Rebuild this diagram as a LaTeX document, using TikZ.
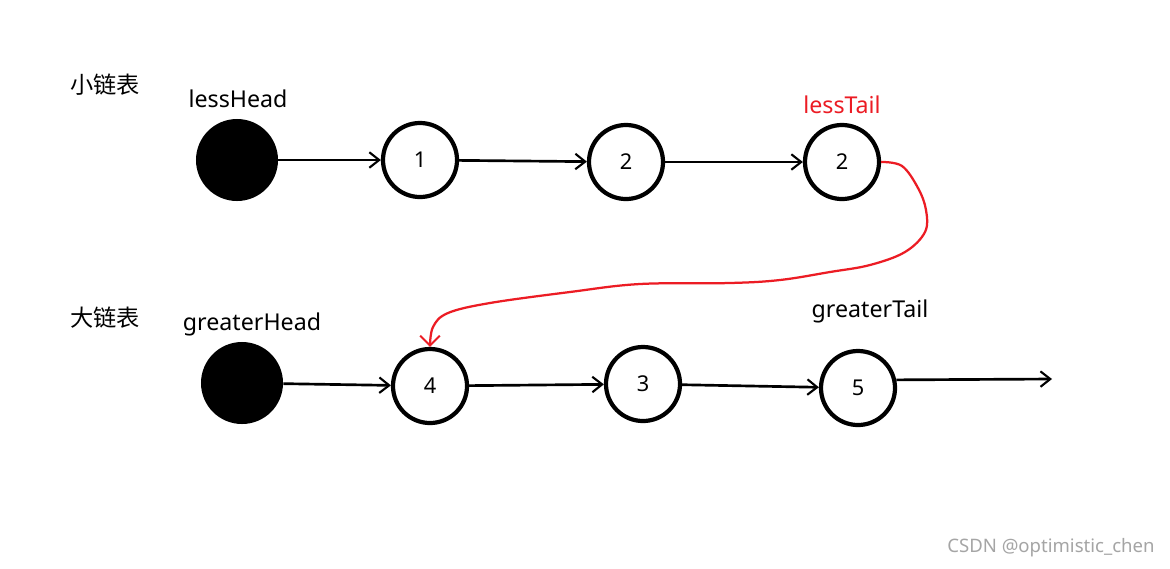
\documentclass[tikz,border=0pt]{standalone}
\usepackage{fontspec}
\setmainfont{Noto Sans}
\newfontfamily\cjk{Noto Sans CJK SC}
\usepackage{tikz}
\usetikzlibrary{arrows.meta}
\tikzset{>=latex}
\definecolor{handred}{RGB}{236,28,36}
\definecolor{markgray}{RGB}{165,165,165}
\tikzstyle{listnode}=[circle,draw=black,line width=3pt,minimum size=1.85cm,inner sep=0pt,font=\fontsize{15.5}{18}\selectfont]
\tikzstyle{headnode}=[circle,fill=black,minimum size=2.05cm,inner sep=0pt]
\tikzstyle{tag}=[inner sep=0pt,font=\fontsize{16.5}{19}\selectfont]
\tikzstyle{link}=[-{Straight Barb[length=7pt,width=11pt,line width=1.5pt]},line width=1.9pt]
\tikzstyle{redlink}=[-{Straight Barb[length=7pt,width=14pt,line width=1.4pt]},handred,line width=1.6pt]
\begin{document}
\begin{tikzpicture}[x=0.025cm,y=-0.025cm]
  \useasboundingbox[fill=white] (0,0) rectangle (1170,568);

  % small list
  \node[tag] (lesslist) at (105,85) {\cjk 小链表};
  \node[headnode] (lh) at (237,160) {};
  \node[listnode] (l1) at (420,160) {1};
  \node[listnode] (l2) at (626,162) {2};
  \node[listnode] (lt) at (842,162) {2};
  \node[tag] (lhname) at (238,99) {lessHead};
  \node[tag,text=handred] (ltname) at (842,105) {lessTail};

  % big list
  \node[tag] (greatlist) at (105,318) {\cjk 大链表};
  \node[headnode] (gh) at (242,383) {};
  \node[listnode] (g4) at (430,386) {4};
  \node[listnode] (g3) at (643,384) {3};
  \node[listnode] (gt) at (858,388) {5};
  \node[tag] (ghname) at (252,324) {greaterHead};
  \node[tag] (gtname) at (870,311) {greaterTail};
  \coordinate (gend) at (1052,379);

  \draw[link] (lh) -- (l1);
  \draw[link] (l1) -- (l2);
  \draw[link] (l2) -- (lt);
  \draw[link] (gh) -- (g4);
  \draw[link] (g4) -- (g3);
  \draw[link] (g3) -- (gt);
  \draw[link] (gt.12) -- (gend);

  % tail of small list joined to head of big list
  \draw[redlink] plot[smooth,tension=0.6] coordinates {(lt.east) (902,166) (918,188) (926,210) (925,232)
    (905,252) (870,265) (830,272) (780,280) (730,283) (640,284) (570,292) (490,303) (448,313)
    (433,327) (g4.north)};

  \node[inner sep=0pt,text=markgray,font=\fontsize{13.2}{15}\selectfont] (mark) at (1051,548) {CSDN @optimistic\_chen};
\end{tikzpicture}
\end{document}
